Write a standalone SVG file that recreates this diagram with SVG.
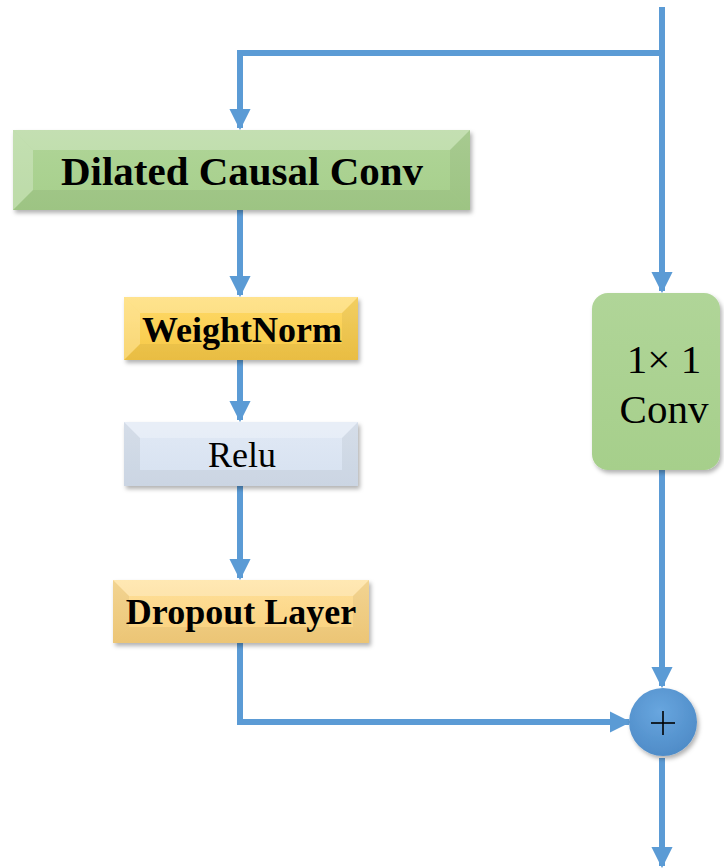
<svg xmlns="http://www.w3.org/2000/svg" width="724" height="868" viewBox="0 0 724 868">
<defs>
<style>
.conn{fill:none;stroke:#5b9bd5;stroke-width:6;}
.bold{font-family:"Liberation Serif","Times New Roman",serif;font-weight:bold;fill:#000;text-anchor:middle;}
.reg{font-family:"Liberation Serif","Times New Roman",serif;fill:#000;text-anchor:middle;}
.hi{fill:#ffffff;opacity:0.25;}
.lo{fill:#000000;opacity:0.05;}
</style>
<marker id="ah" viewBox="0 0 10 10" refX="9" refY="5" markerWidth="3.6" markerHeight="3.6" orient="auto" markerUnits="strokeWidth">
<path d="M0,0 L10,5 L0,10 z" fill="#5b9bd5"/>
</marker>
<filter id="sh" x="-10%" y="-10%" width="130%" height="140%">
<feDropShadow dx="2" dy="3" stdDeviation="2" flood-color="#000" flood-opacity="0.3"/>
</filter>
<linearGradient id="gGreen" x1="0" y1="0" x2="0" y2="1">
<stop offset="0" stop-color="#b0d598"/><stop offset="1" stop-color="#a6cf8b"/>
</linearGradient>
<linearGradient id="gGold" x1="0" y1="0" x2="0" y2="1">
<stop offset="0" stop-color="#ffda68"/><stop offset="1" stop-color="#f6c846"/>
</linearGradient>
<linearGradient id="gBlue" x1="0" y1="0" x2="0" y2="1">
<stop offset="0" stop-color="#e1e9f5"/><stop offset="1" stop-color="#d6e1f0"/>
</linearGradient>
<linearGradient id="gPeach" x1="0" y1="0" x2="0" y2="1">
<stop offset="0" stop-color="#ffe09a"/><stop offset="1" stop-color="#f9d07c"/>
</linearGradient>
<radialGradient id="gCirc" cx="0.45" cy="0.35" r="0.7">
<stop offset="0" stop-color="#68a6df"/><stop offset="1" stop-color="#4d8ac6"/>
</radialGradient>
</defs>

<g id="connectors">
<polyline class="conn" points="662,7 662,53 240,53 240,128" marker-end="url(#ah)"/>
<line class="conn" x1="662" y1="53" x2="662" y2="291" marker-end="url(#ah)"/>
<line class="conn" x1="240" y1="210" x2="240" y2="295" marker-end="url(#ah)"/>
<line class="conn" x1="240" y1="360" x2="240" y2="420" marker-end="url(#ah)"/>
<line class="conn" x1="240" y1="486" x2="240" y2="578" marker-end="url(#ah)"/>
<polyline class="conn" points="240,643 240,722 629,722" marker-end="url(#ah)"/>
<line class="conn" x1="662" y1="470" x2="662" y2="686" marker-end="url(#ah)"/>
<line class="conn" x1="662" y1="758" x2="662" y2="866" marker-end="url(#ah)"/>
</g>

<g id="dilated">
<rect x="13" y="130" width="457" height="80" fill="url(#gGreen)" filter="url(#sh)"/>
<polygon class="hi" points="13,130 470,130 450,150 33,150"/>
<polygon class="hi" points="13,130 33,150 33,190 13,210" opacity="0.12"/>
<polygon class="lo" points="13,210 33,190 450,190 470,210"/>
<polygon class="lo" points="470,130 450,150 450,190 470,210"/>
<text class="bold" x="242" y="185" font-size="41">Dilated Causal Conv</text>
</g>

<g id="weightnorm">
<rect x="124" y="297" width="234" height="63" fill="url(#gGold)" filter="url(#sh)"/>
<polygon class="hi" points="124,297 358,297 342,313 140,313"/>
<polygon class="hi" points="124,297 140,313 140,344 124,360" opacity="0.12"/>
<polygon class="lo" points="124,360 140,344 342,344 358,360"/>
<polygon class="lo" points="358,297 342,313 342,344 358,360"/>
<text class="bold" x="242" y="342" font-size="36">WeightNorm</text>
</g>

<g id="relu">
<rect x="124" y="422" width="234" height="64" fill="url(#gBlue)" filter="url(#sh)"/>
<polygon class="hi" points="124,422 358,422 342,438 140,438"/>
<polygon class="lo" points="124,422 140,438 140,470 124,486" opacity="0.04"/>
<polygon class="lo" points="124,486 140,470 342,470 358,486"/>
<polygon class="lo" points="358,422 342,438 342,470 358,486"/>
<text class="reg" x="242" y="467" font-size="36">Relu</text>
</g>

<g id="dropout">
<rect x="113" y="580" width="256" height="63" fill="url(#gPeach)" filter="url(#sh)"/>
<polygon class="hi" points="113,580 369,580 353,596 129,596"/>
<polygon class="lo" points="113,580 129,596 129,627 113,643" opacity="0.04"/>
<polygon class="lo" points="113,643 129,627 353,627 369,643"/>
<polygon class="lo" points="369,580 353,596 353,627 369,643"/>
<text class="bold" x="241" y="624" font-size="36">Dropout Layer</text>
</g>

<g id="conv1x1">
<rect x="592" y="293" width="128" height="177" rx="16" ry="16" fill="url(#gGreen)" filter="url(#sh)"/>
<text class="reg" x="664" y="373" font-size="41">1× 1</text>
<text class="reg" x="664" y="423" font-size="41">Conv</text>
</g>

<g id="add">
<circle cx="663" cy="722" r="34" fill="url(#gCirc)" filter="url(#sh)"/>
<line x1="651" y1="723" x2="675" y2="723" stroke="#000" stroke-width="1.6"/>
<line x1="663" y1="711" x2="663" y2="735" stroke="#000" stroke-width="1.6"/>
</g>
</svg>
